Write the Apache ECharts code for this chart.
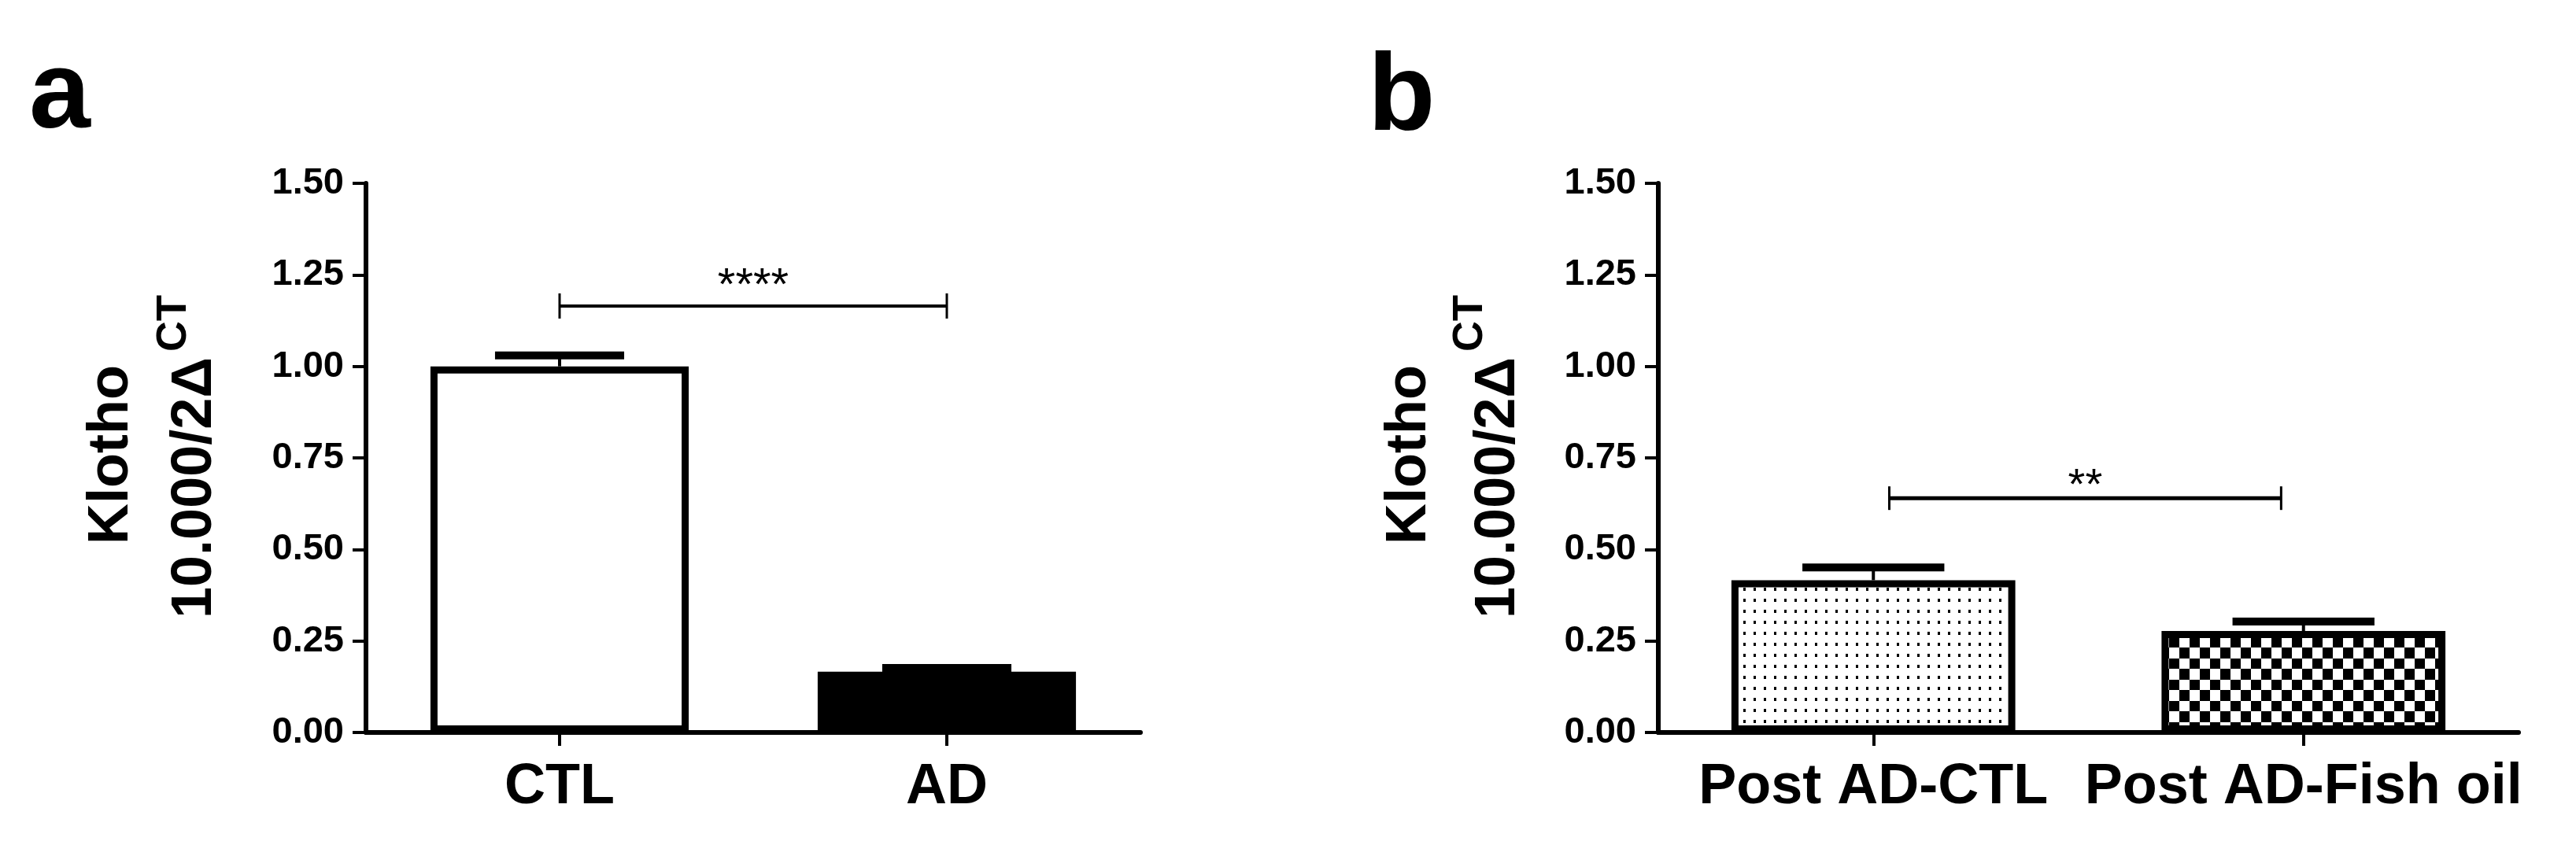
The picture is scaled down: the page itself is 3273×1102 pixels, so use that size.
<!DOCTYPE html>
<html><head><meta charset="utf-8">
<script src="https://cdn.jsdelivr.net/npm/echarts/dist/echarts.min.js"></script>
<style>html,body{margin:0;padding:0;background:#fff}#c{width:3273px;height:1102px}</style>
</head><body><div id="c"></div>
<script>
// ---- data ----
const catsA = ['CTL', 'AD'];
const meansA = [1.00, 0.166];
const upperA = [1.03, 0.176];
const catsB = ['Post AD-CTL', 'Post AD-Fish oil'];
const meansB = [0.416, 0.277];
const upperB = [0.451, 0.303];
const yMin = 0, yMax = 1.5, yStep = 0.25;
// bracket: [y value, left position (fraction between categories), right position]
const bracketA = [1.165, 0, 1];
const bracketB = [0.640, 0.037, 0.948];
const starsA = '****';
const starsB = '**';
const yTitle1 = 'Klotho';
const yTitle2 = '10.000/2\u0394';
const yTitleSup = 'CT';

const FONT = '"Liberation Sans", Arial, sans-serif';

function makeDots() {
  const c = document.createElement('canvas'); c.width = 13; c.height = 14;
  const g = c.getContext('2d'); g.fillStyle = '#fff'; g.fillRect(0, 0, 13, 14);
  g.fillStyle = '#000'; g.fillRect(5, 5, 3, 4); return c;
}
function makeCheck() {
  const c = document.createElement('canvas'); c.width = 26; c.height = 27;
  const g = c.getContext('2d'); g.fillStyle = '#fff'; g.fillRect(0, 0, 26, 27);
  g.fillStyle = '#000'; g.fillRect(0, 0, 13, 13); g.fillRect(13, 13, 13, 14); return c;
}

function yAxisCfg(gi) {
  return {
    type: 'value', gridIndex: gi, min: yMin, max: yMax, interval: yStep, z: 10,
    axisLine: { show: true, onZero: false, lineStyle: { color: '#000', width: 6 } },
    axisTick: { show: true, length: 17, lineStyle: { color: '#000', width: 4 } },
    splitLine: { show: false },
    axisLabel: { formatter: v => v.toFixed(2), color: '#000', fontSize: 47, fontWeight: 'bold', fontFamily: FONT, margin: 28 }
  };
}
function xAxisCfg(gi, cats) {
  return {
    type: 'category', gridIndex: gi, data: cats, z: 10,
    axisLine: { show: true, onZero: false, lineStyle: { color: '#000', width: 6 } },
    axisTick: { show: true, alignWithLabel: true, length: 17, lineStyle: { color: '#000', width: 4 } },
    axisLabel: { color: '#000', fontSize: 72, fontWeight: 'bold', fontFamily: FONT, margin: 34, interval: 0 },
    splitLine: { show: false }
  };
}
function errSeries(i, means, ups, capFrac) {
  return {
    type: 'custom', xAxisIndex: i, yAxisIndex: i, z: 5, silent: true,
    data: means.map((m, k) => [k, m, ups[k]]),
    encode: { x: 0, y: [1, 2] },
    renderItem(params, api) {
      const k = api.value(0), m = api.value(1), u = api.value(2);
      const p0 = api.coord([k, m]), p1 = api.coord([k, u]);
      const cw = api.size([1, 0])[0] * capFrac;
      return { type: 'group', children: [
        { type: 'line', shape: { x1: p0[0], y1: p0[1], x2: p1[0], y2: p1[1] }, style: { stroke: '#000', lineWidth: 4 } },
        { type: 'rect', shape: { x: p1[0] - cw / 2, y: p1[1] - 5, width: cw, height: 10 }, style: { fill: '#000' } }
      ]};
    }
  };
}
function bracketSeries(i, br, stars, lw, half, starSize, starOff) {
  return {
    type: 'custom', xAxisIndex: i, yAxisIndex: i, z: 6, silent: true,
    data: [[0, br[0], br[1], br[2]]],
    encode: { x: 0, y: 1 },
    renderItem(params, api) {
      const y = api.value(1), f1 = api.value(2), f2 = api.value(3);
      const a = api.coord([0, y]), b = api.coord([1, y]);
      const xl = a[0] + (b[0] - a[0]) * f1, xr = a[0] + (b[0] - a[0]) * f2, py = a[1];
      return { type: 'group', children: [
        { type: 'line', shape: { x1: xl, y1: py, x2: xr, y2: py }, style: { stroke: '#000', lineWidth: lw } },
        { type: 'line', shape: { x1: xl, y1: py - half, x2: xl, y2: py + half }, style: { stroke: '#000', lineWidth: 3 } },
        { type: 'line', shape: { x1: xr, y1: py - half, x2: xr, y2: py + half }, style: { stroke: '#000', lineWidth: 3 } },
        { type: 'text', x: (xl + xr) / 2, y: py - starOff,
          style: { text: stars, font: starSize + 'px ' + FONT, fill: '#000', align: 'center', verticalAlign: 'middle', textAlign: 'center', textVerticalAlign: 'middle' } }
      ]};
    }
  };
}
function txt(x, y, text, size, rot, align) {
  return { type: 'text', x: x, y: y, rotation: rot, silent: true,
    style: { text: text, font: 'bold ' + size + 'px ' + FONT, fill: '#000',
      align: align, verticalAlign: 'middle', textAlign: align, textVerticalAlign: 'middle' } };
}

const chart = echarts.init(document.getElementById('c'), null, { renderer: 'canvas' });
const R = Math.PI / 2;
chart.setOption({
  animation: false,
  backgroundColor: '#fff',
  grid: [
    { left: 465, top: 233, width: 984, height: 698, containLabel: false, outerBoundsMode: 'none' },
    { left: 2107, top: 233, width: 1093, height: 698, containLabel: false, outerBoundsMode: 'none' }
  ],
  xAxis: [xAxisCfg(0, catsA), xAxisCfg(1, catsB)],
  yAxis: [yAxisCfg(0), yAxisCfg(1)],
  series: [
    { type: 'bar', xAxisIndex: 0, yAxisIndex: 0, barWidth: '66.7%', silent: true,
      itemStyle: { borderColor: '#000', borderWidth: 9 },
      data: meansA.map((v, k) => ({ value: v, itemStyle: { color: k === 0 ? '#fff' : '#000' } })) },
    { type: 'bar', xAxisIndex: 1, yAxisIndex: 1, barWidth: '66%', silent: true,
      itemStyle: { borderColor: '#000', borderWidth: 9 },
      data: meansB.map((v, k) => ({ value: v, itemStyle: { color: { image: k === 0 ? makeDots() : makeCheck(), repeat: 'repeat' } } })) },
    errSeries(0, meansA, upperA, 0.3335),
    errSeries(1, meansB, upperB, 0.33),
    bracketSeries(0, bracketA, starsA, 4, 16, 58, 24),
    bracketSeries(1, bracketB, starsB, 5, 15, 56, 15)
  ],
  graphic: [
    txt(37, 123, 'a', 140, 0, 'left'),
    txt(1738, 126, 'b', 140, 0, 'left'),
    txt(142, 578, yTitle1, 72, R, 'center'),
    txt(248, 786, yTitle2, 72, R, 'left'),
    txt(221, 447, yTitleSup, 54, R, 'left'),
    txt(1791, 578, yTitle1, 72, R, 'center'),
    txt(1904, 786, yTitle2, 72, R, 'left'),
    txt(1868, 447, yTitleSup, 54, R, 'left')
  ]
});
</script></body></html>
